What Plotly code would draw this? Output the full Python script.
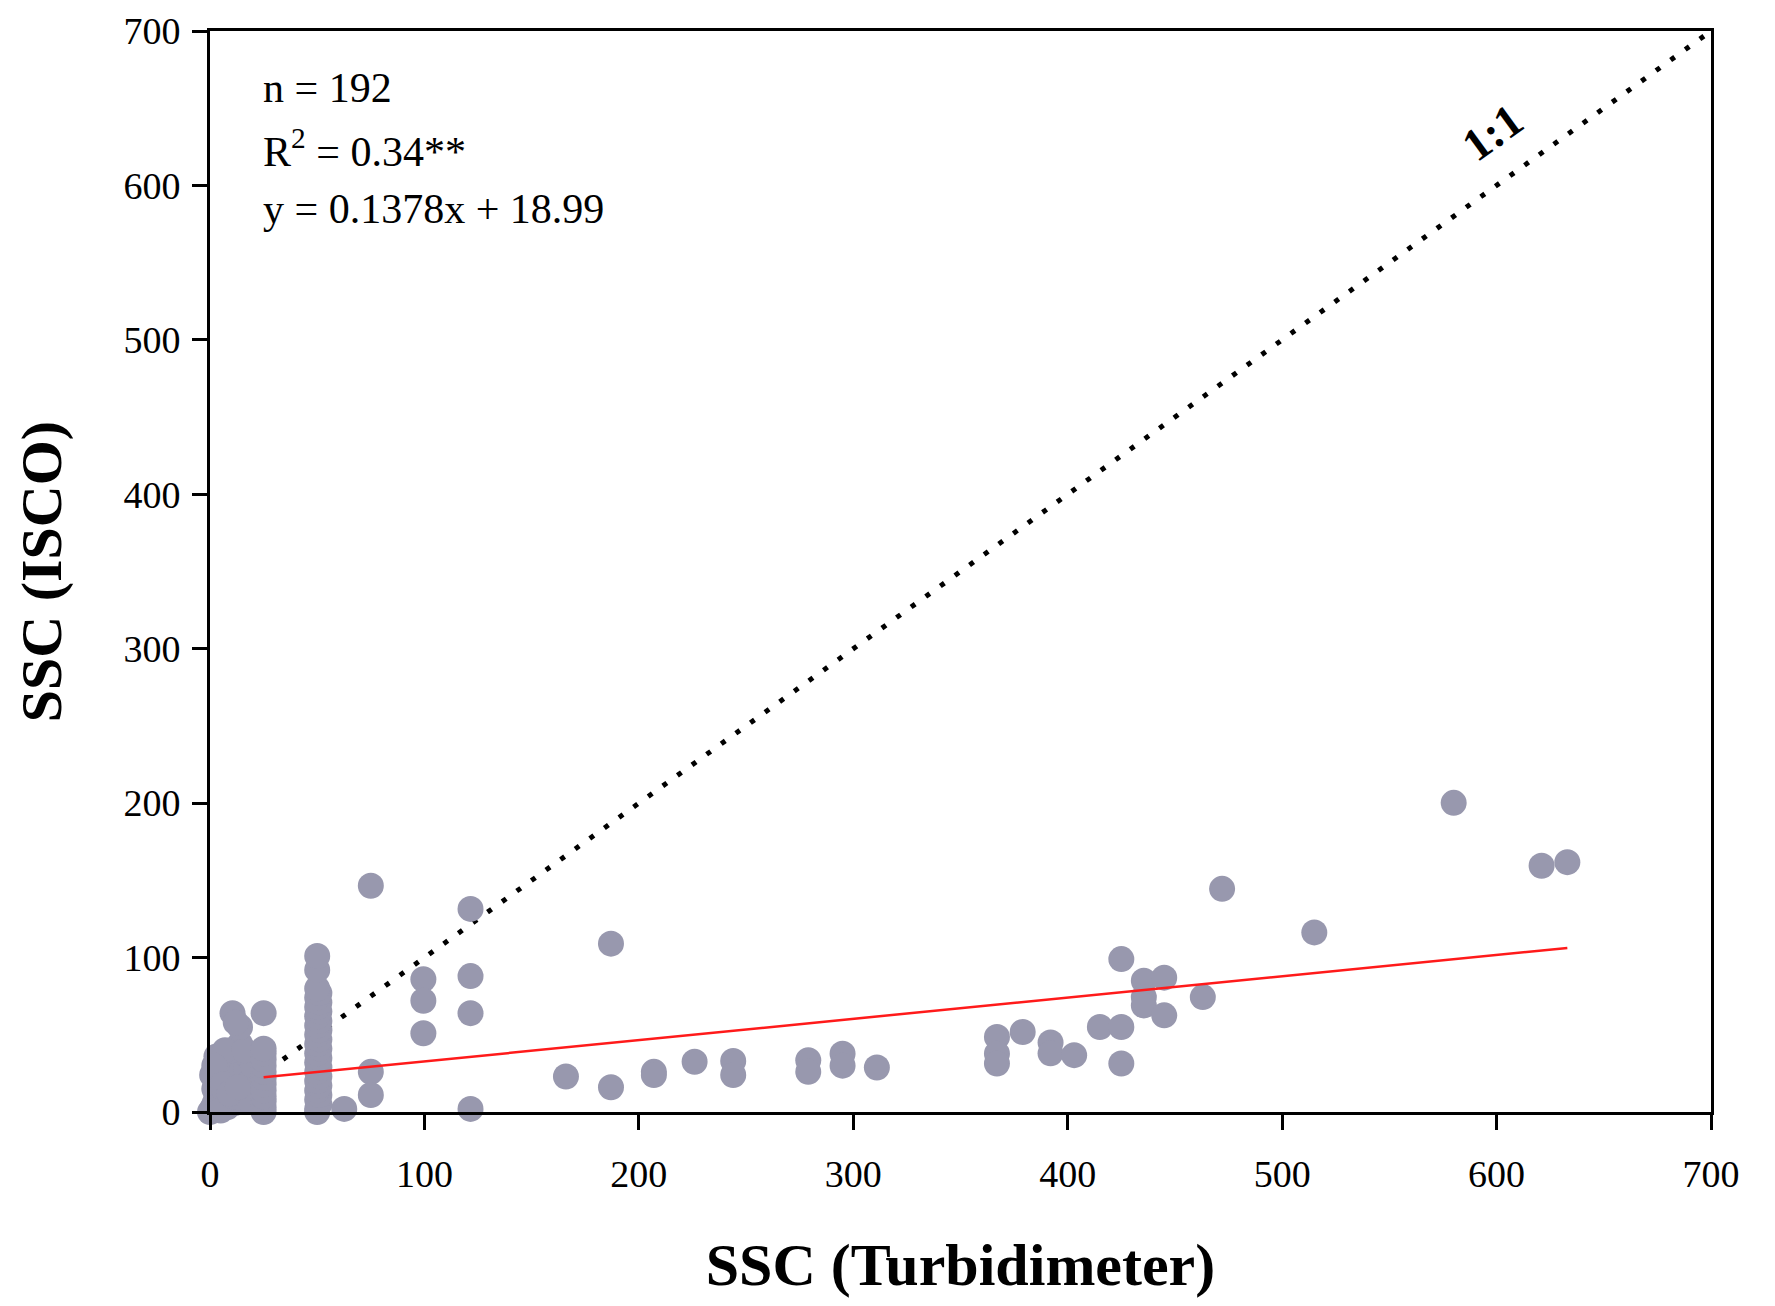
import plotly.graph_objects as go

# ---- data ----
turb_x = [
    # dense cluster near origin
    0, 1, 2, 3, 2, 4, 3, 5, 4, 6, 7, 8, 6, 9, 10, 11, 12, 13, 14, 15,
    16, 17, 18, 19, 20, 8, 12, 5, 10, 14, 3, 1, 7, 16, 11, 18, 2, 6, 9, 13,
    10.5, 14, 12,
    # column at ~25
    25, 25, 25, 25, 25, 25, 25, 25, 25, 25, 25, 25, 25,
    # column at ~50
    50, 50, 51, 50, 51, 50, 51, 50, 51, 50, 51, 50, 51, 50, 51, 50, 51, 50,
    51, 50, 51, 50, 51, 50, 51, 50, 51, 50, 50, 50,
    # scattered
    62.6, 75, 75, 75, 99.5, 99.5, 99.5, 121.5, 121.5, 121.5, 121.5,
    166, 187, 187, 207, 207, 226, 244, 244, 279, 279, 295, 295, 311,
    367, 367, 367, 379, 392, 392, 403, 415, 425, 425, 425,
    435.5, 435.5, 435.5, 445, 445, 463, 472, 515, 580, 621, 633,
]
isco_y = [
    0, 2, 5, 10, 15, 20, 25, 28, 32, 8, 14, 22, 30, 35, 26, 18, 30, 38, 24, 33,
    12, 28, 36, 20, 30, 3, 6, 1, 40, 44, 36, 24, 40, 40, 10, 8, 30, 18, 12, 16,
    64, 55, 58,
    0, 3, 7, 10, 14, 18, 22, 26, 30, 34, 38, 41, 64,
    0, 2, 5, 8, 11, 14, 17, 20, 23, 26, 29, 32, 35, 38, 41, 44, 47, 50,
    53, 56, 59, 62, 65, 68, 71, 74, 77, 80, 92, 101,
    2, 146.5, 26, 11, 86, 72, 51, 131.5, 88, 64, 2,
    23, 109, 16, 26, 24, 32.5, 33, 24, 33.5, 26, 37.8, 30, 28.8,
    48.6, 37.8, 31.4, 51.8, 45, 38, 36.8, 55, 99, 55, 31.4,
    85, 74.4, 69, 87, 62.6, 74.4, 144.5, 116.3, 200.2, 159.5, 161.8,
]

one_to_one = [0, 700]
fit_x = [25, 633]
slope, intercept = 0.1378, 18.99
fit_y = [slope * v + intercept for v in fit_x]

x_ticks = [0, 100, 200, 300, 400, 500, 600, 700]
y_ticks = [0, 100, 200, 300, 400, 500, 600, 700]

FONT = "Liberation Serif, Times New Roman, serif"

fig = go.Figure()

fig.add_trace(go.Scatter(
    x=one_to_one, y=one_to_one, mode="lines",
    line=dict(color="black", width=5, dash="5px,13px"),
    hoverinfo="skip", showlegend=False, cliponaxis=False,
))

fig.add_trace(go.Scatter(
    x=turb_x, y=isco_y, mode="markers",
    marker=dict(size=26, color="#9898ae", line=dict(width=0)),
    showlegend=False, cliponaxis=False,
))

fig.add_trace(go.Scatter(
    x=fit_x, y=fit_y, mode="lines",
    line=dict(color="#ff1a1a", width=2.5),
    showlegend=False,
))

axis_common = dict(
    showline=True, linecolor="black", linewidth=3, mirror=True,
    showgrid=False, zeroline=False, automargin=False,
    ticks="outside", ticklen=15, tickwidth=2.5, tickcolor="black",
    tickfont=dict(family=FONT, size=38, color="black"),
    ticklabeloverflow="allow",
    range=[0, 700],
)

fig.update_layout(
    width=1759, height=1290,
    margin=dict(l=202, r=56, t=23, b=186),
    paper_bgcolor="white", plot_bgcolor="white",
    xaxis=dict(**axis_common, tickvals=x_ticks, ticklabelstandoff=11,
               title=dict(text="<b>SSC (Turbidimeter)</b>", standoff=58,
                          font=dict(family=FONT, size=60, color="black"))),
    yaxis=dict(**axis_common, tickvals=y_ticks, ticklabelstandoff=4,
               title=dict(text="<b>SSC (ISCO)</b>", standoff=44,
                          font=dict(family=FONT, size=58, color="black"))),
    font=dict(family=FONT, color="black"),
)

ann_font = dict(family=FONT, size=42, color="black")
for txt, yv in [("n = 192", 663),
                ("R<sup>2</sup> = 0.34**", 624),
                ("y = 0.1378x + 18.99", 585)]:
    fig.add_annotation(x=24, y=yv, xref="x", yref="y", text=txt,
                       showarrow=False, xanchor="left", yanchor="middle",
                       font=ann_font)

fig.add_annotation(x=598, y=634, xref="x", yref="y", text="<b>1:1</b>",
                   showarrow=False, textangle=-36,
                   font=dict(family=FONT, size=46, color="black"))

fig.write_html("out.html")
